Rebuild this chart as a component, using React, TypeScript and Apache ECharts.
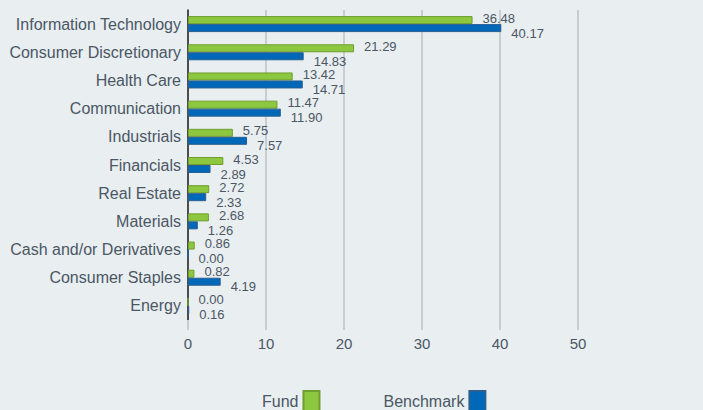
import React, { useEffect, useRef } from "react";
import * as echarts from "echarts";

const categories = [
  "Information Technology",
  "Consumer Discretionary",
  "Health Care",
  "Communication",
  "Industrials",
  "Financials",
  "Real Estate",
  "Materials",
  "Cash and/or Derivatives",
  "Consumer Staples",
  "Energy",
];
const fundValues = [36.48, 21.29, 13.42, 11.47, 5.75, 4.53, 2.72, 2.68, 0.86, 0.82, 0.0];
const benchmarkValues = [40.17, 14.83, 14.71, 11.9, 7.57, 2.89, 2.33, 1.26, 0.0, 4.19, 0.16];
const xTicks = [0, 10, 20, 30, 40, 50];

const textColor = "#4b5764";

export default function App() {
  const ref = useRef<HTMLDivElement>(null);
  useEffect(() => {
    document.body.style.margin = "0";
    if (!ref.current) return;
    const chart = echarts.init(ref.current, undefined, { renderer: "svg" });
    chart.setOption({
      animation: false,
      backgroundColor: "#e9eef1",
      textStyle: { fontFamily: "'Liberation Sans', Arial, sans-serif" },
      legend: {
        left: 262,
        top: 390,
        padding: 0,
        align: "right",
        itemWidth: 16,
        itemHeight: 20,
        itemGap: 63,
        icon: "rect",
        textStyle: { color: textColor, fontSize: 16, lineHeight: 20, verticalAlign: "middle" },
        data: ["Fund", "Benchmark"],
      },
      grid: { left: 188, right: 125, top: 10, bottom: 90, containLabel: false },
      xAxis: {
        type: "value",
        min: xTicks[0],
        max: xTicks[xTicks.length - 1],
        interval: 10,
        axisLine: { show: false },
        axisTick: { show: true, length: 10, lineStyle: { color: "#c8cdd1", width: 2 } },
        splitLine: { show: true, lineStyle: { color: "#c8cdd1", width: 2 } },
        axisLabel: { color: textColor, fontSize: 15, margin: 16 },
      },
      yAxis: {
        type: "category",
        data: categories,
        inverse: true,
        axisLine: { show: true, lineStyle: { color: "#222", width: 1.5 } },
        axisTick: { show: false },
        axisLabel: { color: textColor, fontSize: 16, margin: 7 },
      },
      series: [
        {
          name: "Fund",
          type: "bar",
          data: fundValues,
          barWidth: 8,
          barGap: "0%",
          itemStyle: { color: "#8dc63f", borderColor: "#6f9e2e", borderWidth: 1 },
          label: {
            show: true,
            position: "right",
            offset: [5, -2],
            color: textColor,
            fontSize: 13,
            formatter: (p: any) => p.value.toFixed(2),
          },
        },
        {
          name: "Benchmark",
          type: "bar",
          data: benchmarkValues,
          barWidth: 8,
          barGap: "0%",
          itemStyle: { color: "#0068b8", borderColor: "#2a5f8f", borderWidth: 1 },
          label: {
            show: true,
            position: "right",
            offset: [5, 5],
            color: textColor,
            fontSize: 13,
            formatter: (p: any) => p.value.toFixed(2),
          },
        },
      ],
    });
    return () => chart.dispose();
  }, []);
  return <div ref={ref} style={{ width: 703, height: 410 }} />;
}
